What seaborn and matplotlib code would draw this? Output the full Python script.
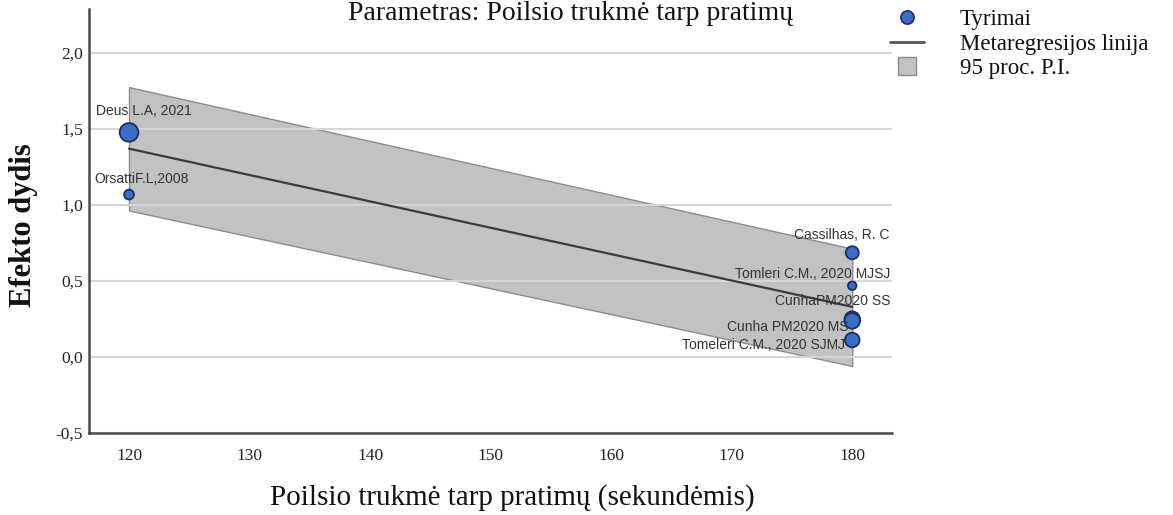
import numpy as np
import pandas as pd
import matplotlib
matplotlib.use("Agg")
import matplotlib.pyplot as plt
from matplotlib.lines import Line2D
from matplotlib.ticker import FuncFormatter
import seaborn as sns

# ---- data ----
studies = ["Deus L.A, 2021", "OrsattiF.L,2008", "Cassilhas, R. C",
           "Tomleri C.M., 2020 MJSJ", "CunhaPM2020 SS", "Cunha PM2020 MS",
           "Tomeleri C.M., 2020 SJMJ"]
rest_sec = [120, 120, 180, 180, 180, 180, 180]
effect = [1.478, 1.069, 0.686, 0.469, 0.25, 0.238, 0.112]
weight = [9.0, 2.5, 4.4, 1.9, 6.0, 6.3, 5.5]

reg_x = [120, 180]
reg_y = [1.371, 0.330]
pi_low = [0.964, -0.059]
pi_high = [1.776, 0.713]

x_ticks = [120, 130, 140, 150, 160, 170, 180]
y_ticks = [-0.5, 0.0, 0.5, 1.0, 1.5, 2.0]

title = "Parametras: Poilsio trukmė tarp pratimų"
x_label = "Poilsio trukmė tarp pratimų (sekundėmis)"
y_label = "Efekto dydis"
legend_labels = ["Tyrimai", "Metaregresijos linija", "95 proc. P.I."]

# label placement offsets (pixels) and alignment
label_offsets = [(-33, 21, "left"), (-35, 16, "left"), (37, 18, "right"),
                 (38, 12, "right"), (38, 18, "right"), (-4, -6, "right"),
                 (-7, -5, "right")]

df = pd.DataFrame({"study": studies, "rest": rest_sec, "effect": effect, "weight": weight})
reg = pd.DataFrame({"x": reg_x, "y": reg_y, "lo": pi_low, "hi": pi_high})

sns.set_theme(style="white")
plt.rcParams["font.family"] = ["Liberation Serif", "DejaVu Serif"]

W, H = 1173, 515
fig = plt.figure(figsize=(W / 100, H / 100), dpi=100)
ax = fig.add_axes([89 / W, 1 - 433 / H, (892 - 89) / W, (433 - 9) / H])

PT_BLUE = "#3d6dcb"
PT_EDGE = "#1b2f5c"

# prediction interval band
ax.fill_between(reg["x"], reg["lo"], reg["hi"], facecolor="#c2c2c2",
                edgecolor="#8c8c8c", linewidth=1.0, zorder=1)
# meta-regression line
sns.lineplot(data=reg, x="x", y="y", ax=ax, color="#3a3a3a", linewidth=1.6, zorder=2)
# studies
sns.scatterplot(data=df, x="rest", y="effect", size="weight", sizes=(38, 180),
                size_norm=(min(weight), max(weight)), color=PT_BLUE,
                edgecolor=PT_EDGE, linewidth=1.3, legend=False, ax=ax, zorder=3)

for (name, xv, yv), (dx, dy, ha) in zip(zip(studies, rest_sec, effect), label_offsets):
    ax.annotate(name, xy=(xv, yv), xytext=(dx, dy), textcoords="offset pixels",
                ha=ha, va="center", fontsize=10, color="#333333",
                family=["Liberation Sans", "DejaVu Sans"], zorder=4)

ax.set_xlim(116.68, 183.3)
ax.set_ylim(-0.5, 2.29)
ax.set_xticks(x_ticks)
ax.set_yticks(y_ticks)
ax.yaxis.set_major_formatter(FuncFormatter(lambda v, p: f"{v:.1f}".replace(".", ",")))
ax.tick_params(axis="both", length=0, labelsize=12.5, colors="#222222")
ax.tick_params(axis="x", pad=10.5)
ax.tick_params(axis="y", pad=4.3)

ax.set_axisbelow("line")
ax.yaxis.grid(True, color="#d6d6d6", linewidth=1.5)
ax.xaxis.grid(False)
for s in ["top", "right"]:
    ax.spines[s].set_visible(False)
for s in ["left", "bottom"]:
    ax.spines[s].set_color("#4a4a4a")
    ax.spines[s].set_linewidth(1.8)

ax.set_xlabel(x_label, fontsize=21, color="#111111")
ax.xaxis.set_label_coords(0.527, -0.153)
ax.xaxis.label.set_va("center")
ax.set_ylabel(y_label, fontsize=22, fontweight="bold", color="#111111")
ax.yaxis.set_label_coords(-0.081, 0.49)
ax.yaxis.label.set_va("center")

fig.text(571 / W, 1 - 1 / H, title, ha="center", va="top", fontsize=20, color="#111111")

handles = [
    Line2D([], [], marker="o", linestyle="none", markersize=9.5,
           markerfacecolor=PT_BLUE, markeredgecolor=PT_EDGE, markeredgewidth=1.2),
    Line2D([], [], color="#555555", linewidth=2),
    Line2D([], [], marker="s", linestyle="none", markersize=13,
           markerfacecolor="#c2c2c2", markeredgecolor="#8c8c8c", markeredgewidth=1),
]
leg = fig.legend(handles, legend_labels, loc="upper left",
                 bbox_to_anchor=(890 / W, 1 - 9 / H), frameon=False,
                 borderaxespad=0, borderpad=0, handlelength=1.5,
                 handletextpad=1.55, labelspacing=0.15, fontsize=16.5)
for t in leg.get_texts():
    t.set_color("#111111")

fig.savefig("out.png", dpi=100)
